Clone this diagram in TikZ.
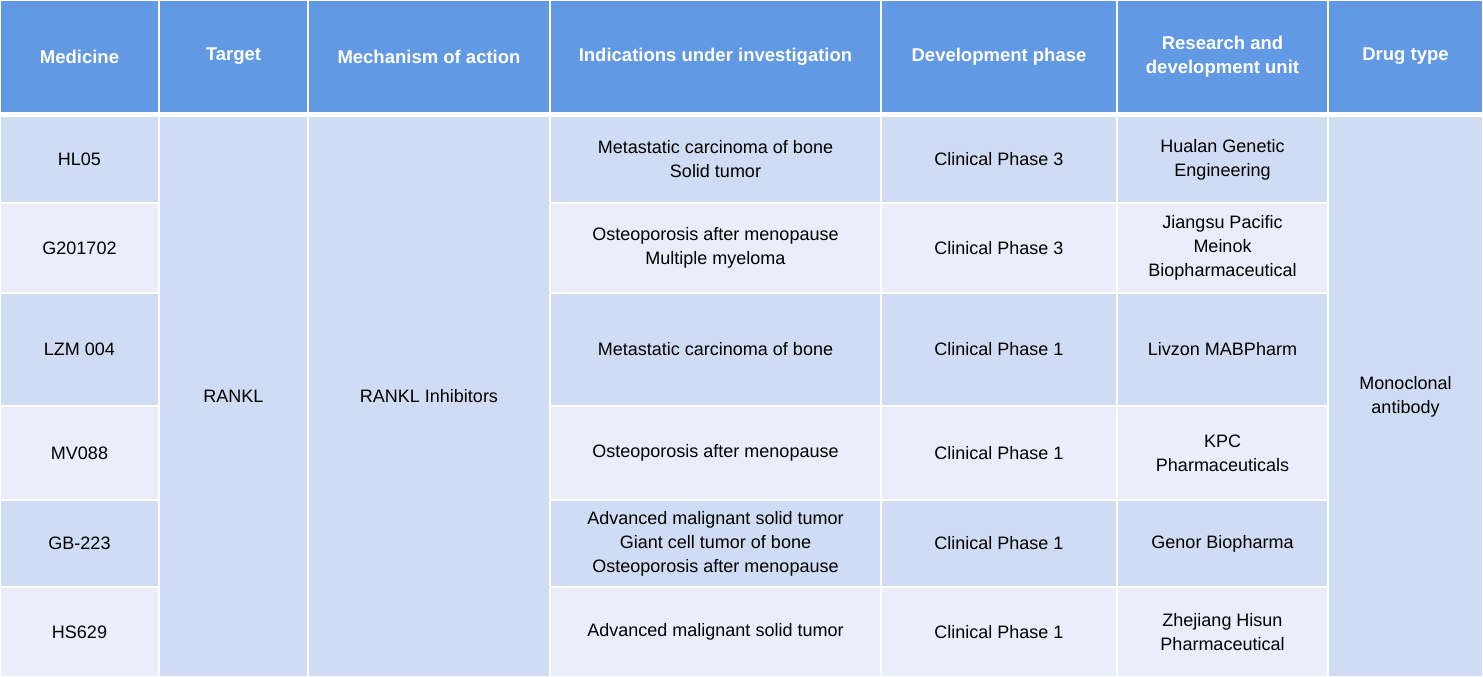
\documentclass[tikz,border=0pt]{standalone}
\usepackage{fontspec}
\setmainfont{Liberation Sans}
\definecolor{hd}{HTML}{6199E5}
\definecolor{dk}{HTML}{D0DCF4}
\definecolor{lt}{HTML}{E9EEFA}
\tikzset{txt/.style={align=center,font=\fontsize{18}{24}\selectfont,text=black},
 htxt/.style={align=center,font=\fontsize{18.5}{24}\selectfont\bfseries,text=white}}
\newcommand{\tcell}[7]{\fill[#5] (#1+1,#2+1) rectangle (#3-1,#4-1);
 \node[#6] (#7) at ({(#1+#3)/2},{(#2+#4)/2}) {};}
\newcommand{\cellx}[8]{\fill[#5] (#1+1,#2+1) rectangle (#3-1,#4-1);
 \node[#6] (#7) at ({(#1+#3)/2},{(#2+#4)/2}) {#8};}
\begin{document}
\begin{tikzpicture}[x=1pt,y=-1pt]
\fill[white] (0,0) rectangle (1483,677);
\useasboundingbox (0,0) rectangle (1483,677);
% header
\cellx{0}{0}{159}{113}{hd}{htxt}{h1}{Medicine}
\cellx{159}{0}{308}{113}{hd}{htxt}{h2}{Target}
\cellx{308}{0}{550}{113}{hd}{htxt}{h3}{Mechanism of action}
\cellx{550}{0}{881}{113}{hd}{htxt}{h4}{Indications under investigation}
\cellx{881}{0}{1117}{113}{hd}{htxt}{h5}{Development phase}
\cellx{1117}{0}{1328}{113}{hd}{htxt}{h6}{Research and\\development unit}
\cellx{1328}{0}{1483}{113}{hd}{htxt}{h7}{Drug type}
% merged
\cellx{159}{116}{308}{677}{dk}{txt}{tg}{RANKL}
\cellx{308}{116}{550}{677}{dk}{txt}{mc}{RANKL Inhibitors}
\cellx{1328}{116}{1483}{677}{dk}{txt}{dt}{Monoclonal\\antibody}
% rows
\cellx{0}{116}{159}{203}{dk}{txt}{m1}{HL05}
\cellx{550}{116}{881}{203}{dk}{txt}{i1}{Metastatic carcinoma of bone\\Solid tumor}
\cellx{881}{116}{1117}{203}{dk}{txt}{p1}{Clinical Phase 3}
\cellx{1117}{116}{1328}{203}{dk}{txt}{u1}{Hualan Genetic\\Engineering}
\cellx{0}{203}{159}{293}{lt}{txt}{m2}{G201702}
\cellx{550}{203}{881}{293}{lt}{txt}{i2}{Osteoporosis after menopause\\Multiple myeloma}
\cellx{881}{203}{1117}{293}{lt}{txt}{p2}{Clinical Phase 3}
\cellx{1117}{203}{1328}{293}{lt}{txt}{u2}{Jiangsu Pacific\\Meinok\\Biopharmaceutical}
\cellx{0}{293}{159}{406}{dk}{txt}{m3}{LZM 004}
\cellx{550}{293}{881}{406}{dk}{txt}{i3}{Metastatic carcinoma of bone}
\cellx{881}{293}{1117}{406}{dk}{txt}{p3}{Clinical Phase 1}
\cellx{1117}{293}{1328}{406}{dk}{txt}{u3}{Livzon MABPharm}
\cellx{0}{406}{159}{500}{lt}{txt}{m4}{MV088}
\cellx{550}{406}{881}{500}{lt}{txt}{i4}{Osteoporosis after menopause}
\cellx{881}{406}{1117}{500}{lt}{txt}{p4}{Clinical Phase 1}
\cellx{1117}{406}{1328}{500}{lt}{txt}{u4}{KPC\\Pharmaceuticals}
\cellx{0}{500}{159}{587}{dk}{txt}{m5}{GB-223}
\cellx{550}{500}{881}{587}{dk}{txt}{i5}{Advanced malignant solid tumor\\Giant cell tumor of bone\\Osteoporosis after menopause}
\cellx{881}{500}{1117}{587}{dk}{txt}{p5}{Clinical Phase 1}
\cellx{1117}{500}{1328}{587}{dk}{txt}{u5}{Genor Biopharma}
\cellx{0}{587}{159}{677}{lt}{txt}{m6}{HS629}
\cellx{550}{587}{881}{677}{lt}{txt}{i6}{Advanced malignant solid tumor}
\cellx{881}{587}{1117}{677}{lt}{txt}{p6}{Clinical Phase 1}
\cellx{1117}{587}{1328}{677}{lt}{txt}{u6}{Zhejiang Hisun\\Pharmaceutical}
\end{tikzpicture}
\end{document}
